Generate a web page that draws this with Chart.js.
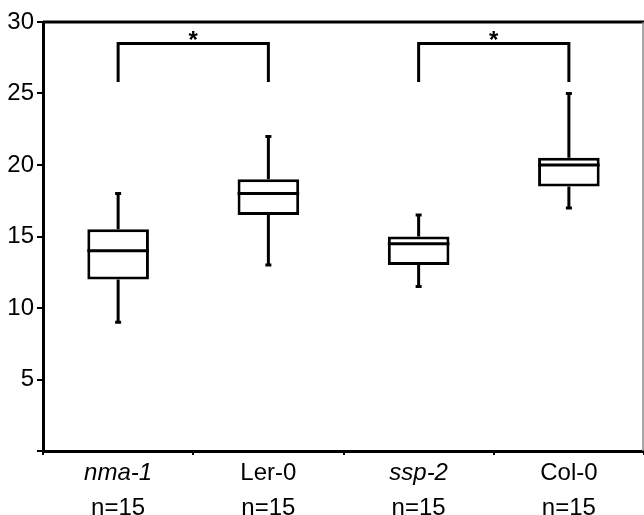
<!DOCTYPE html>
<html>
<head>
<meta charset="utf-8">
<script src="https://cdn.jsdelivr.net/npm/chart.js@4/dist/chart.umd.min.js"></script>
<style>
  html, body { margin: 0; padding: 0; background: #fff; }
  #wrap { width: 644px; height: 515px; }
</style>
</head>
<body>
<div id="wrap"><canvas id="chart"></canvas></div>
<script>
const categories = ['nma-1', 'Ler-0', 'ssp-2', 'Col-0'];
const italicCats = [true, false, true, false];
const nLabels = ['n=15', 'n=15', 'n=15', 'n=15'];

const whiskerLow = [9, 13, 11.5, 17];
const q1 = [12, 16.5, 13, 18.5];
const median = [14, 18, 14.5, 20];
const q3 = [15.5, 19, 15, 20.5];
const whiskerHigh = [18, 22, 16.5, 25];

// significance brackets: pairs of category indexes
const brackets = [[0, 1], [2, 3]];
const bracketTop = 28.5;
const bracketLeg = 25.8;
const bracketMark = '*';

const FONT = "'Liberation Sans', Arial, sans-serif";
const LW = 3;

const boxExtras = {
  id: 'boxExtras',
  afterDatasetsDraw(chart) {
    const { ctx, scales: { x, y }, chartArea } = chart;
    const meta = chart.getDatasetMeta(0);
    ctx.save();
    ctx.strokeStyle = '#000';
    ctx.lineWidth = LW;
    ctx.lineCap = 'butt';
    categories.forEach((c, i) => {
      const bar = meta.data[i];
      const cx = x.getPixelForValue(i);
      const half = bar.width / 2;
      // median
      ctx.beginPath();
      ctx.moveTo(cx - half, y.getPixelForValue(median[i]));
      ctx.lineTo(cx + half, y.getPixelForValue(median[i]));
      ctx.stroke();
      // whiskers
      ctx.beginPath();
      ctx.moveTo(cx, y.getPixelForValue(q3[i]));
      ctx.lineTo(cx, y.getPixelForValue(whiskerHigh[i]));
      ctx.moveTo(cx, y.getPixelForValue(q1[i]));
      ctx.lineTo(cx, y.getPixelForValue(whiskerLow[i]));
      ctx.stroke();
      // caps
      ctx.beginPath();
      ctx.moveTo(cx - 3, y.getPixelForValue(whiskerHigh[i]));
      ctx.lineTo(cx + 3, y.getPixelForValue(whiskerHigh[i]));
      ctx.moveTo(cx - 3, y.getPixelForValue(whiskerLow[i]));
      ctx.lineTo(cx + 3, y.getPixelForValue(whiskerLow[i]));
      ctx.stroke();
    });
    // brackets
    ctx.fillStyle = '#000';
    ctx.font = 'bold 24px ' + FONT;
    ctx.textAlign = 'center';
    ctx.textBaseline = 'alphabetic';
    brackets.forEach(([a, b]) => {
      const xa = x.getPixelForValue(a), xb = x.getPixelForValue(b);
      const yt = y.getPixelForValue(bracketTop), yl = y.getPixelForValue(bracketLeg);
      ctx.beginPath();
      ctx.moveTo(xa, yl);
      ctx.lineTo(xa, yt);
      ctx.lineTo(xb, yt);
      ctx.lineTo(xb, yl);
      ctx.stroke();
      ctx.fillText(bracketMark, (xa + xb) / 2, yt + 5);
    });
    // top frame
    ctx.beginPath();
    ctx.moveTo(chartArea.left, chartArea.top);
    ctx.lineTo(chartArea.right, chartArea.top);
    ctx.stroke();
    // thin right frame
    ctx.strokeStyle = '#888';
    ctx.lineWidth = 1.5;
    ctx.beginPath();
    ctx.moveTo(chartArea.right - 1, chartArea.top);
    ctx.lineTo(chartArea.right - 1, chartArea.bottom);
    ctx.stroke();
    ctx.restore();
  }
};

new Chart(document.getElementById('chart'), {
  type: 'bar',
  data: {
    labels: categories,
    datasets: [{
      data: categories.map((c, i) => [q1[i], q3[i]]),
      backgroundColor: '#fff',
      borderColor: '#000',
      borderWidth: LW,
      borderSkipped: false,
      categoryPercentage: 1,
      barPercentage: 0.41
    }]
  },
  options: {
    responsive: true,
    maintainAspectRatio: false,
    animation: false,
    layout: { padding: { top: 22, right: 0, left: 0, bottom: 0 } },
    plugins: { legend: { display: false }, tooltip: { enabled: false } },
    scales: {
      x: {
        position: 'bottom',
        grid: { drawOnChartArea: false, color: '#000', lineWidth: 2, tickLength: 4, offset: true },
        border: { color: '#000', width: LW },
        ticks: {
          color: '#000',
          padding: 4,
          font: ctx => ({ family: FONT, size: 24, style: italicCats[ctx.index] ? 'italic' : 'normal' })
        },
        afterFit: s => { s.height = 35; }
      },
      x2: {
        type: 'category',
        position: 'bottom',
        labels: nLabels,
        offset: true,
        grid: { display: false },
        border: { display: false },
        ticks: { color: '#000', padding: 0, font: { family: FONT, size: 24 } },
        afterFit: s => { s.height = 29; }
      },
      y: {
        min: 0,
        max: 30,
        grid: { drawOnChartArea: false, color: '#000', lineWidth: 2, tickLength: 6 },
        border: { color: '#000', width: LW },
        ticks: {
          stepSize: 5,
          color: '#000',
          padding: 3,
          font: { family: FONT, size: 24 },
          callback: v => (v === 0 ? '' : v)
        },
        afterFit: s => { s.width = 43; }
      }
    }
  },
  plugins: [boxExtras]
});
</script>
</body>
</html>
